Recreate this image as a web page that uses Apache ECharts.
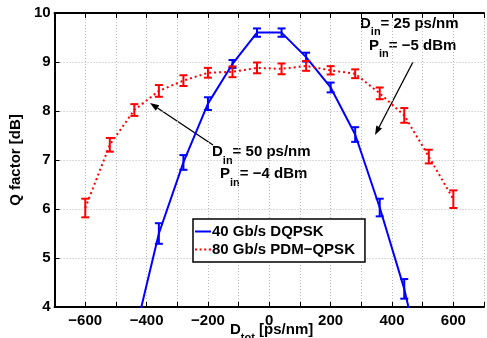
<!DOCTYPE html>
<html><head><meta charset="utf-8">
<script src="https://cdn.jsdelivr.net/npm/echarts@6/dist/echarts.min.js"></script>
<style>html,body{margin:0;padding:0;background:#fff}#c{width:487px;height:338px}</style>
</head><body><div id="c"></div>
<script>
// ---- data ----
const seriesNames = ['40 Gb/s DQPSK', '80 Gb/s PDM\u2212QPSK'];
const dqpskDispersion = [-440, -360, -280, -200, -120, -40, 40, 120, 200, 280, 360, 440, 520];
const dqpskQ          = [3.4, 5.5, 6.95, 8.15, 8.96, 9.6, 9.6, 9.1, 8.48, 7.52, 6.03, 4.37, 2.2];
const dqpskErr        = [0.2, 0.21, 0.15, 0.13, 0.08, 0.085, 0.085, 0.09, 0.1, 0.15, 0.18, 0.2, 0.2];
const pdmDispersion   = [-600, -520, -440, -360, -280, -200, -120, -40, 40, 120, 200, 280, 360, 440, 520, 600];
const pdmQ            = [6.02, 7.31, 8.02, 8.41, 8.62, 8.78, 8.8, 8.88, 8.86, 8.92, 8.83, 8.76, 8.36, 7.91, 7.07, 6.2];
const pdmErr          = [0.19, 0.14, 0.12, 0.12, 0.11, 0.1, 0.11, 0.11, 0.11, 0.1, 0.085, 0.09, 0.12, 0.15, 0.14, 0.18];
const xTickLabels = [-600, -400, -200, 0, 200, 400, 600];
const yTickLabels = [4, 5, 6, 7, 8, 9, 10];

const FONT = 'Liberation Sans, Arial, Helvetica, sans-serif';
const BLUE = '#0000ff', RED = '#ff0000';

function lineData(xs, ys) { return xs.map((x, i) => [x, ys[i]]); }
function errData(xs, ys, es) { return xs.map((x, i) => [x, ys[i], es[i]]); }

function errRenderer(color) {
  return function (params, api) {
    const x = api.value(0), y = api.value(1), e = api.value(2);
    const t = api.coord([x, y + e]), b = api.coord([x, y - e]);
    const hw = 4;
    const st = { stroke: color, lineWidth: 2, fill: null };
    return {
      type: 'group', children: [
        { type: 'line', shape: { x1: t[0], y1: t[1], x2: b[0], y2: b[1] }, style: st },
        { type: 'line', shape: { x1: t[0] - hw, y1: t[1], x2: t[0] + hw, y2: t[1] }, style: st },
        { type: 'line', shape: { x1: b[0] - hw, y1: b[1], x2: b[0] + hw, y2: b[1] }, style: st }
      ]
    };
  };
}

function arrow(x1, y1, x2, y2) {
  const ang = Math.atan2(y2 - y1, x2 - x1);
  const L = 9, W = 3.2;
  const bx = x2 - L * Math.cos(ang), by = y2 - L * Math.sin(ang);
  const px = -Math.sin(ang) * W, py = Math.cos(ang) * W;
  return {
    type: 'group', children: [
      { type: 'line', shape: { x1: x1, y1: y1, x2: bx, y2: by }, style: { stroke: '#000', lineWidth: 1.3 } },
      { type: 'polygon', shape: { points: [[x2, y2], [bx + px, by + py], [bx - px, by - py]] }, style: { fill: '#000' } }
    ]
  };
}

const richBase = {
  b: { fontSize: 15, fontWeight: 'bold', fontFamily: FONT, fill: '#000', lineHeight: 16, verticalAlign: 'top' },
  s: { fontSize: 11, fontWeight: 'bold', fontFamily: FONT, fill: '#000', lineHeight: 32, verticalAlign: 'middle' }
};
function subText(x, yTop, main, sub, rest) {
  return {
    type: 'text', x: x, y: yTop,
    style: { text: '{b|' + main + '}{s|' + sub + '}{b|' + rest + '}', rich: richBase, fill: '#000', verticalAlign: 'top', align: 'left' }
  };
}

const chart = echarts.init(document.getElementById('c'), null, { renderer: 'canvas' });
const axisLineStyle = { color: '#000', width: 2 };
const gridLine = { show: true, lineStyle: { color: '#b8b8b8', width: 1, type: [1, 2] } };
const labelStyle = { color: '#000', fontSize: 15, fontWeight: 'bold', fontFamily: FONT };

chart.setOption({
  animation: false,
  backgroundColor: '#fff',
  grid: { left: 50, top: 13, width: 445, height: 294, containLabel: false },
  xAxis: [
    {
      type: 'value', position: 'bottom', min: -700, max: 700, interval: 100,
      axisLine: { show: true, onZero: false, lineStyle: axisLineStyle },
      axisTick: { show: true, inside: true, length: 5, lineStyle: { color: '#000', width: 1 } },
      axisLabel: Object.assign({ margin: 6, interval: 0,
        formatter: v => xTickLabels.indexOf(v) >= 0 ? (v < 0 ? '\u2212' + (-v) : String(v)) : '' }, labelStyle),
      splitLine: gridLine
    },
    {
      type: 'value', position: 'top', min: -700, max: 700, interval: 100,
      axisLine: { show: true, onZero: false, lineStyle: axisLineStyle },
      axisTick: { show: true, inside: true, length: 5, lineStyle: { color: '#000', width: 1 } },
      axisLabel: { show: false }, splitLine: { show: false }
    }
  ],
  yAxis: {
    type: 'value', min: 4, max: 10, interval: 1,
    name: 'Q factor [dB]', nameLocation: 'middle', nameRotate: 90, nameGap: 16,
    nameTextStyle: { color: '#000', fontSize: 15, fontWeight: 'bold', fontFamily: FONT },
    axisLine: { show: true, onZero: false, lineStyle: axisLineStyle },
    axisTick: { show: true, inside: true, length: 5, lineStyle: { color: '#000', width: 1 } },
    axisLabel: Object.assign({ margin: 4, formatter: v => yTickLabels.indexOf(v) >= 0 ? String(v) : '' }, labelStyle),
    splitLine: gridLine
  },
  legend: {
    orient: 'vertical', left: 193, top: 219,
    padding: [5, 10, 5, 2], itemWidth: 16, itemHeight: 2, itemGap: 3,
    backgroundColor: '#fff', borderColor: '#000', borderWidth: 1.5, borderRadius: 0,
    textStyle: { color: '#000', fontSize: 15, fontWeight: 'bold', fontFamily: FONT, lineHeight: 14, padding: [0, 0, 0, -4] },
    data: [
      { name: seriesNames[0], icon: 'path://M0,0h16v2h-16z' },
      { name: seriesNames[1], icon: 'path://M0,0h2v2h-2zM4.6,0h2v2h-2zM9.2,0h2v2h-2zM13.8,0h2.2v2h-2.2z' }
    ]
  },
  series: [
    {
      name: seriesNames[0], type: 'line', data: lineData(dqpskDispersion, dqpskQ),
      symbol: 'none', showSymbol: false, clip: true,
      lineStyle: { color: BLUE, width: 2, type: 'solid' }, itemStyle: { color: BLUE }, z: 3
    },
    {
      name: seriesNames[0] + ' err', type: 'custom', data: errData(dqpskDispersion, dqpskQ, dqpskErr),
      encode: { x: 0, y: 1 }, renderItem: errRenderer(BLUE), clip: true, z: 3
    },
    {
      name: seriesNames[1], type: 'line', data: lineData(pdmDispersion, pdmQ),
      symbol: 'none', showSymbol: false, clip: true,
      lineStyle: { color: RED, width: 2, type: [2, 3] }, itemStyle: { color: RED }, z: 4
    },
    {
      name: seriesNames[1] + ' err', type: 'custom', data: errData(pdmDispersion, pdmQ, pdmErr),
      encode: { x: 0, y: 1 }, renderItem: errRenderer(RED), clip: true, z: 4
    }
  ],
  graphic: [
    arrow(213, 145, 150, 103),
    arrow(413, 62, 375, 135),
    subText(212, 144.5, 'D', 'in', '= 50 ps/nm'),
    subText(220, 166.5, 'P', 'in', '= \u22124 dBm'),
    subText(360, 16, 'D', 'in', '= 25 ps/nm'),
    subText(369, 38, 'P', 'in', '= \u22125 dBm'),
    subText(230, 322, 'D', 'tot', ' [ps/nm]')
  ]
});
</script>
</body></html>
